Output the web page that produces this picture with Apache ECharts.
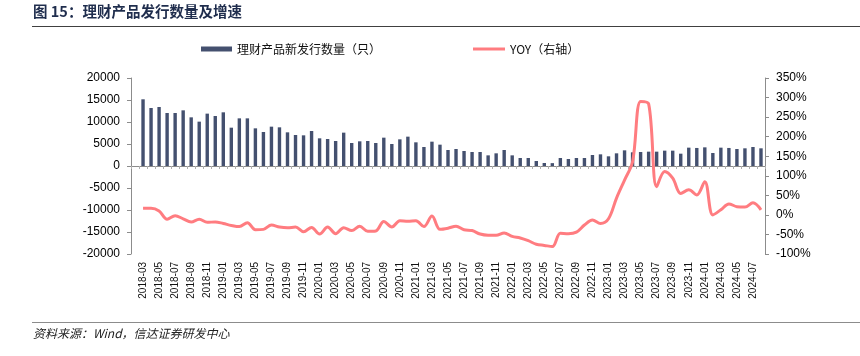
<!DOCTYPE html>
<html>
<head>
<meta charset="utf-8">
<script src="https://cdn.jsdelivr.net/npm/echarts@6/dist/echarts.min.js"></script>
<style>
html,body{margin:0;padding:0;background:#fff;}
#c{width:860px;height:356px;}
</style>
</head>
<body>
<div id="c"></div>
<script>
var categories = ['2018-02','2018-03','2018-04','2018-05','2018-06','2018-07','2018-08','2018-09','2018-10','2018-11','2018-12',
'2019-01','2019-02','2019-03','2019-04','2019-05','2019-06','2019-07','2019-08','2019-09','2019-10','2019-11','2019-12',
'2020-01','2020-02','2020-03','2020-04','2020-05','2020-06','2020-07','2020-08','2020-09','2020-10','2020-11','2020-12',
'2021-01','2021-02','2021-03','2021-04','2021-05','2021-06','2021-07','2021-08','2021-09','2021-10','2021-11','2021-12',
'2022-01','2022-02','2022-03','2022-04','2022-05','2022-06','2022-07','2022-08','2022-09','2022-10','2022-11','2022-12',
'2023-01','2023-02','2023-03','2023-04','2023-05','2023-06','2023-07','2023-08','2023-09','2023-10','2023-11','2023-12',
'2024-01','2024-02','2024-03','2024-04','2024-05','2024-06','2024-07','2024-08'];

var issueCount = [null,
15160,13180,13410,12050,12050,12650,11060,10080,11900,11360,
12200,8710,10830,10830,8560,7730,8940,8790,7650,7050,6970,7960,
6290,6140,5680,7580,5230,5610,5680,5230,6440,5000,6060,6670,
5380,4320,5530,4850,3640,3860,3410,3180,3180,2420,2880,3640,
2420,1820,1820,1140,680,650,1820,1590,1820,1820,2500,2650,
2200,2880,3560,3110,3180,3260,3260,3490,3490,2800,4170,4100,
4240,2950,4170,4100,3860,4020,4320,4020];

var yoy = [null,
17,17,10,-11,-2,-10,-18,-11,-19,-18,
-22,-27,-30,-20,-38,-37,-26,-31,-33,-31,-43,-32,
-49,-31,-48,-33,-40,-29,-42,-41,-17,-31,-15,-16,
-15,-30,-3,-37,-34,-29,-38,-40,-49,-52,-52,-46,
-55,-59,-66,-75,-78,-81,-47,-48,-44,-26,-13,-22,
-10,43,89,136,290,284,72,111,94,55,64,51,
85,0,13,28,21,20,31,13];

var titleText = '图 15：理财产品发行数量及增速';
var sourceText = '资料来源：Wind，信达证券研发中心';
var barName = '理财产品新发行数量（只）';
var lineName = 'YOY（右轴）';

var chart = echarts.init(document.getElementById('c'), null, {renderer:'canvas'});
var font = 'Arial, "Liberation Sans", "Noto Sans CJK SC", sans-serif';
var cjk = '"Noto Sans CJK SC", sans-serif';
var legendText = {fontSize: 12, fontFamily: cjk, color: '#111'};

chart.setOption({
  animation: false,
  backgroundColor: '#fff',
  textStyle: {fontFamily: font},
  graphic: [
    {type:'text', left:33, top:4, style:{text:titleText, font:'bold 14.5px ' + cjk, fill:'#1f2d4d'}},
    {type:'line', shape:{x1:32,y1:26.5,x2:860,y2:26.5}, style:{stroke:'#404040', lineWidth:1}},
    {type:'line', shape:{x1:32,y1:322.5,x2:860,y2:322.5}, style:{stroke:'#8c8c8c', lineWidth:1.2}},
    {type:'text', left:33, top:327, style:{text:sourceText, font:'italic 12px ' + cjk, fill:'#222'}}
  ],
  legend: [
    {
      left: 196, top: 38, itemWidth: 31, itemHeight: 5,
      textStyle: legendText,
      data: [{name: barName, icon: 'rect'}]
    },
    {
      left: 468, top: 38, itemWidth: 32, itemHeight: 3,
      textStyle: legendText,
      data: [{name: lineName, icon: 'rect'}]
    }
  ],
  grid: {left: 131, right: 95, top: 78, bottom: 102, containLabel: false},
  xAxis: [
    {
      type: 'category', data: categories, position: 'bottom',
      axisLine: {show: false, onZero: false},
      axisTick: {show: false},
      axisLabel: {
        rotate: 90, fontSize: 10, color: '#111', margin: 8, fontFamily: font,
        interval: function (i) { return i % 2 === 1; }
      },
      splitLine: {show: false}
    },
    {
      type: 'category', data: categories, position: 'top',
      axisLine: {show: true, onZero: true, lineStyle: {color: '#8c8c8c', width: 1}},
      axisTick: {show: true, inside: true, length: 3, interval: 0, lineStyle: {color: '#b0b0b0'}},
      axisLabel: {show: false},
      splitLine: {show: false}
    }
  ],
  yAxis: [
    {
      type: 'value', min: -20000, max: 20000, interval: 5000,
      axisLine: {show: true, lineStyle: {color: '#8c8c8c'}},
      axisTick: {show: true, length: 4, lineStyle: {color: '#8c8c8c'}},
      axisLabel: {fontSize: 12, color: '#000', margin: 11, fontFamily: font,
        formatter: function (v) { return String(v); }},
      splitLine: {show: false}
    },
    {
      type: 'value', min: -100, max: 350, interval: 50, position: 'right',
      axisLine: {show: true, lineStyle: {color: '#8c8c8c'}},
      axisTick: {show: true, length: 4, lineStyle: {color: '#8c8c8c'}},
      axisLabel: {fontSize: 12, color: '#000', margin: 11, fontFamily: font, formatter: '{value}%'},
      splitLine: {show: false}
    }
  ],
  series: [
    {
      name: barName, type: 'bar', xAxisIndex: 0, yAxisIndex: 0,
      data: issueCount, barWidth: 3.4,
      itemStyle: {color: '#44506f'}
    },
    {
      name: lineName, type: 'line', xAxisIndex: 0, yAxisIndex: 1,
      data: yoy, smooth: 0.35, symbol: 'none', showSymbol: false,
      lineStyle: {color: '#ff7c80', width: 3},
      itemStyle: {color: '#ff7c80'}
    }
  ]
});
</script>
</body>
</html>
